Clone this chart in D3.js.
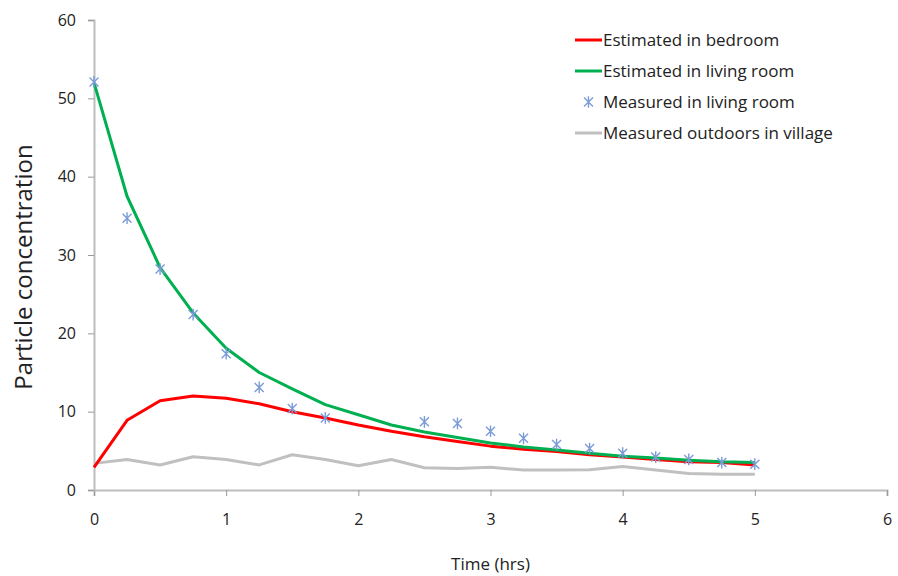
<!DOCTYPE html>
<html>
<head>
<meta charset="utf-8">
<script src="https://cdn.jsdelivr.net/npm/d3@7"></script>
<style>
  body { margin: 0; background: #fff; }
  svg text { font-family: "Open Sans", Lato, sans-serif; fill: #222; }
</style>
</head>
<body>
<svg width="898" height="576"></svg>
<script>
const times = [0, 0.25, 0.5, 0.75, 1, 1.25, 1.5, 1.75, 2, 2.25, 2.5, 2.75, 3, 3.25, 3.5, 3.75, 4, 4.25, 4.5, 4.75, 5];

const bedroom = [2.9, 8.9, 11.4, 12.0, 11.7, 11.0, 10.0, 9.2, 8.3, 7.5, 6.8, 6.2, 5.6, 5.2, 4.9, 4.5, 4.2, 3.9, 3.6, 3.5, 3.2];
const livingEst = [52.0, 37.5, 28.4, 22.6, 18.1, 15.0, 12.9, 10.9, 9.6, 8.3, 7.4, 6.7, 6.0, 5.5, 5.1, 4.7, 4.3, 4.1, 3.8, 3.6, 3.5];
const livingMeas = [52.1, 34.7, 28.2, 22.4, 17.4, 13.1, 10.4, 9.2, null, null, 8.7, 8.5, 7.5, 6.6, 5.8, 5.3, 4.7, 4.2, 3.9, 3.5, 3.3];
const outdoors = [3.4, 3.9, 3.2, 4.25, 3.9, 3.2, 4.5, 3.9, 3.1, 3.9, 2.85, 2.75, 2.9, 2.55, 2.55, 2.6, 3.0, 2.55, 2.1, 2.0, 2.0];

const xTicks = [0, 1, 2, 3, 4, 5, 6];
const yTicks = [0, 10, 20, 30, 40, 50, 60];

const legendLabels = [
  "Estimated in bedroom",
  "Estimated in living room",
  "Measured in living room",
  "Measured outdoors in village",
];

const svg = d3.select("svg");
const margin = { top: 20, right: 11, bottom: 86, left: 94 };
const width = +svg.attr("width");
const height = +svg.attr("height");
const innerWidth = width - margin.left - margin.right;
const innerHeight = height - margin.top - margin.bottom;

const xScale = d3.scaleLinear().domain([0, 6]).range([0, innerWidth]);
const yScale = d3.scaleLinear().domain([0, 60]).range([innerHeight, 0]);

const g = svg.append("g").attr("transform", `translate(${margin.left}, ${margin.top})`);

//axes
const xAxis = d3.axisBottom(xScale).tickValues(xTicks).tickFormat(d3.format("d")).tickSize(6).tickPadding(18);
const yAxis = d3.axisLeft(yScale).tickValues(yTicks).tickFormat(d3.format("d")).tickSize(6).tickPadding(12);

const xg = g.append("g").attr("transform", `translate(0, ${innerHeight})`).call(xAxis);
const yg = g.append("g").call(yAxis);

[xg, yg].forEach((ax) => {
  ax.select(".domain").attr("stroke", "#bdbdbd").attr("stroke-width", 2);
  ax.selectAll(".tick line").attr("stroke", "#999");
  ax.selectAll(".tick text").style("font-size", "16px").attr("fill", "#222");
});

//axis titles
g.append("text")
  .attr("x", xScale(3))
  .attr("y", innerHeight + 80)
  .attr("text-anchor", "middle")
  .style("font-size", "17px")
  .text("Time (hrs)");

g.append("text")
  .attr("transform", `translate(${-62}, ${innerHeight / 2 + 12}) rotate(-90)`)
  .attr("text-anchor", "middle")
  .style("font-size", "24px")
  .text("Particle concentration");

//lines
const line = (vals) =>
  d3
    .line()
    .defined((d, i) => vals[i] !== null)
    .x((d, i) => xScale(times[i]))
    .y((d, i) => yScale(vals[i]))(vals);

const lineSeries = [
  { vals: outdoors, color: "#c0c0c0" },
  { vals: bedroom, color: "#ff0000" },
  { vals: livingEst, color: "#00b050" },
];

lineSeries.forEach((s) => {
  g.append("path")
    .attr("d", line(s.vals))
    .attr("fill", "none")
    .attr("stroke", s.color)
    .attr("stroke-width", 3)
    .attr("stroke-linejoin", "round");
});

//star markers
const starColor = "#7b9bd8";
const star = (sel, r) => {
  sel.append("path")
    .attr("d", `M${-r},${-r}L${r},${r}M${-r},${r}L${r},${-r}M0,${-r * 1.3}L0,${r * 1.3}`)
    .attr("stroke", starColor)
    .attr("stroke-width", 1.4)
    .attr("fill", "none");
};

g.selectAll(".marker")
  .data(times.map((t, i) => ({ t, v: livingMeas[i] })).filter((d) => d.v !== null))
  .enter()
  .append("g")
  .attr("class", "marker")
  .attr("transform", (d) => `translate(${xScale(d.t)}, ${yScale(d.v)})`)
  .each(function () {
    star(d3.select(this), 4.5);
  });

//legend
const legendColors = ["#ff0000", "#00b050", null, "#c0c0c0"];
const legend = svg
  .append("g")
  .attr("transform", "translate(575, 40)")
  .selectAll(".legends")
  .data(legendLabels)
  .enter()
  .append("g")
  .attr("transform", (d, i) => `translate(0, ${i * 31})`);

legend.each(function (d, i) {
  const lg = d3.select(this);
  if (legendColors[i]) {
    lg.append("line")
      .attr("x1", 0)
      .attr("x2", 27)
      .attr("stroke", legendColors[i])
      .attr("stroke-width", 3);
  } else {
    const m = lg.append("g").attr("transform", "translate(13.5, 0)");
    star(m, 4.5);
  }
  lg.append("text")
    .attr("x", 28)
    .attr("y", 6)
    .style("font-size", "17px")
    .text(d);
});
</script>
</body>
</html>
